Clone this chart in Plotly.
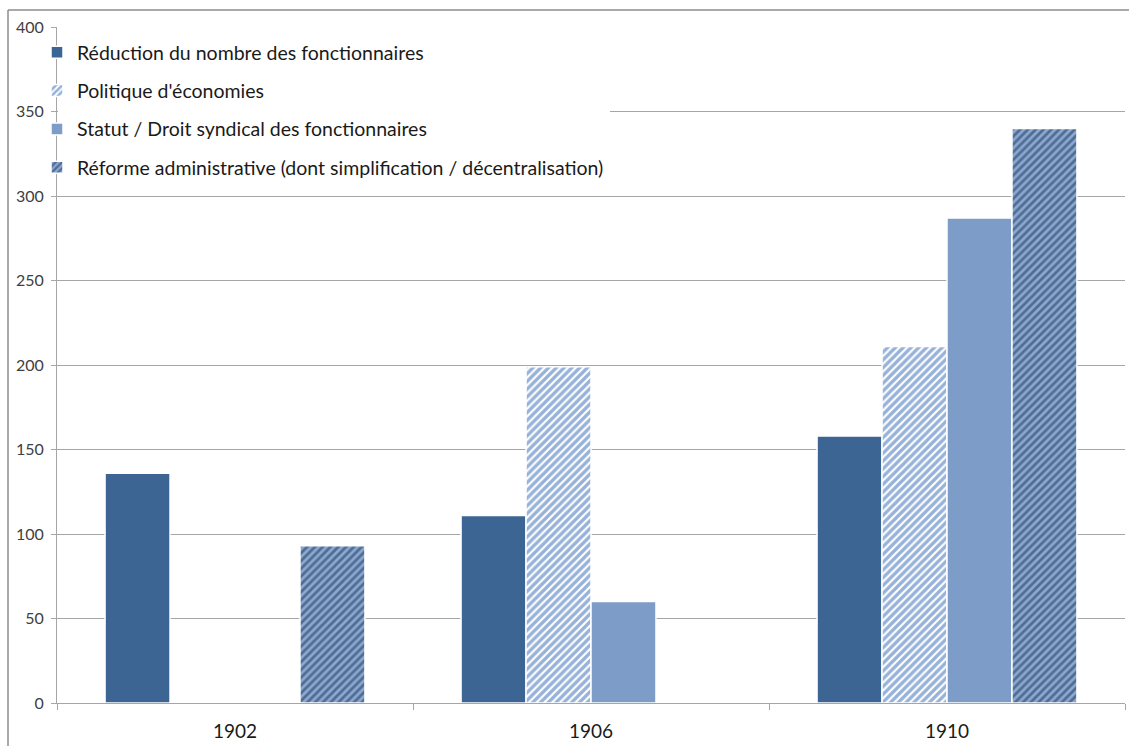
import plotly.graph_objects as go

years = ["1902", "1906", "1910"]
reduction = [136, 111, 158]
politique = [0, 199, 211]
statut = [0, 60, 287]
reforme = [93, 0, 340]
names = [
    "Réduction du nombre des fonctionnaires",
    "Politique d'économies",
    "Statut / Droit syndical des fonctionnaires",
    "Réforme administrative (dont simplification / décentralisation)",
]
y_ticks = [0, 50, 100, 150, 200, 250, 300, 350, 400]

W, H = 1129, 746
L, R, T, B = 57, 4, 27, 43
pw, ph = W - L - R, H - T - B

fig = go.Figure()
line = dict(color="white", width=1.5)
fig.add_bar(x=years, y=reduction, name=names[0], legendgroup="a",
            marker=dict(color="#3d6594", line=line))
fig.add_bar(x=years, y=politique, name=names[1], legendgroup="b",
            marker=dict(color="white", line=line,
                        pattern=dict(shape="/", fgcolor="#2f66b3", bgcolor="white",
                                     size=5.5, solidity=0.6)))
fig.add_bar(x=years, y=statut, name=names[2], legendgroup="c",
            marker=dict(color="#7e9cc8", line=line))
fig.add_bar(x=years, y=reforme, name=names[3], legendgroup="d",
            marker=dict(color="#8aa8d2", line=line,
                        pattern=dict(shape="/", fgcolor="#172f50", bgcolor="#8aa8d2",
                                     size=5.5, solidity=0.5)))

def px_x(p):
    return (p - L) / pw

def px_y(p):
    return (H - B - p) / ph

fig.update_layout(
    width=W, height=H,
    margin=dict(l=L, r=R, t=T, b=B),
    paper_bgcolor="white", plot_bgcolor="white",
    barmode="group", bargap=0.27, bargroupgap=0,
    font=dict(family="Lato, 'Open Sans', sans-serif", color="#262626"),
    showlegend=True,
    legend=dict(x=px_x(37), y=px_y(33), xanchor="left", yanchor="top",
                bgcolor="rgba(0,0,0,0)", font=dict(size=19.5, color="#1a1a1a"),
                traceorder="grouped", tracegroupgap=10, itemwidth=30),
    xaxis=dict(showline=True, linecolor="#a6a6a6", linewidth=1,
               ticks="outside", tickson="boundaries", ticklen=6, tickcolor="#a6a6a6",
               ticklabelstandoff=11,
               tickfont=dict(size=19, color="#1a1a1a"), showgrid=False),
    yaxis=dict(range=[0, 400], tickvals=y_ticks, showline=True, linecolor="#a6a6a6",
               ticks="outside", ticklen=5, tickcolor="#a6a6a6",
               ticklabelstandoff=4,
               gridcolor="#a6a6a6", gridwidth=1, zeroline=False,
               tickfont=dict(size=16, color="#404040")),
    shapes=[
        dict(type="rect", xref="paper", yref="paper", x0=px_x(58), x1=px_x(610),
             y0=px_y(188), y1=px_y(29), fillcolor="white", line=dict(width=0),
             layer="above"),
        dict(type="line", xref="paper", yref="paper", x0=px_x(8), x1=px_x(8),
             y0=px_y(10), y1=px_y(760), line=dict(color="#8c8c8c", width=1.5)),
        dict(type="line", xref="paper", yref="paper", x0=px_x(8), x1=px_x(1135),
             y0=px_y(10), y1=px_y(10), line=dict(color="#8c8c8c", width=1.5)),
    ],
)

fig.write_html(
    "out.html",
    config={"displayModeBar": False},
    post_script="document.body.style.margin='0';document.body.style.overflow='hidden';",
)
